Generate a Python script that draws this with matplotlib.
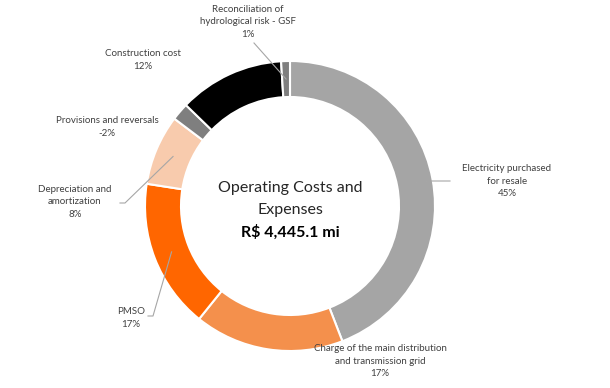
import matplotlib.pyplot as plt
import numpy as np

# segment data, clockwise from 12 o'clock
categories = ['Electricity purchased\nfor resale',
              'Charge of the main distribution\nand transmission grid',
              'PMSO',
              'Depreciation and\namortization',
              'Provisions and reversals',
              'Construction cost',
              'Reconciliation of\nhydrological risk - GSF']
shares = [45, 17, 17, 8, -2, 12, 1]
colors = ['#A5A5A5', '#F4904C', '#FF6600', '#F8CBAD', '#7F7F7F', '#000000', '#7F7F7F']

title_lines = ['Operating Costs and', 'Expenses']
total_label = 'R$ 4,445.1 mi'

W, H = 610, 388
CX, CY = 290, H - 206
R, RING = 145, 36

plt.rcParams['font.family'] = ['Lato', 'DejaVu Sans']

fig = plt.figure(figsize=(W / 100, H / 100), dpi=100)
ax = fig.add_axes([0, 0, 1, 1])
ax.set_xlim(0, W)
ax.set_ylim(0, H)
ax.axis('off')

sizes = np.abs(shares)
wedges, _ = ax.pie(sizes, colors=colors, startangle=90, counterclock=False,
                   center=(CX, CY), radius=R,
                   wedgeprops=dict(width=RING, edgecolor='white', linewidth=1.5))
ax.set_xlim(0, W)
ax.set_ylim(0, H)
ax.set_aspect('equal')

# label text centres (image px, y from top) and optional elbow for leader lines
label_pos = [(507, 181), (380, 361), (131, 318), (75, 202), (107, 127), (143, 60), (248, 22)]
elbows = [(450, 181), None, (148, 316), (120, 203), None, None, (254, 43)]
leader_to = [(432, 181), None, (153, 316), (125, 203), None, None, None]

for w, cat, val, (lx, ly), el, lt in zip(wedges, categories, shares, label_pos,
                                         elbows, leader_to):
    txt = '%s\n%d%%' % (cat, val)
    ax.text(lx, H - ly, txt, ha='center', va='center', fontsize=7,
            color='#404040', linespacing=1.45)
    if el is None:
        continue
    mid = np.deg2rad((w.theta1 + w.theta2) / 2)
    rr = R - RING / 2
    px, py = CX + rr * np.cos(mid), CY + rr * np.sin(mid)
    if lt is None:
        xs, ys = [el[0], px], [H - el[1], py]
    else:
        xs, ys = [el[0], lt[0], px], [H - el[1], H - lt[1], py]
    ax.plot(xs, ys, color='#A6A6A6', lw=0.8, zorder=5)

ax.text(CX, H - 188, title_lines[0], ha='center', va='center', fontsize=11.5, color='#262626')
ax.text(CX, H - 210, title_lines[1], ha='center', va='center', fontsize=11.5, color='#262626')
ax.text(CX, H - 232, total_label, ha='center', va='center', fontsize=11.5,
        fontweight='bold', color='#000000')

fig.savefig('out.png', dpi=100)
